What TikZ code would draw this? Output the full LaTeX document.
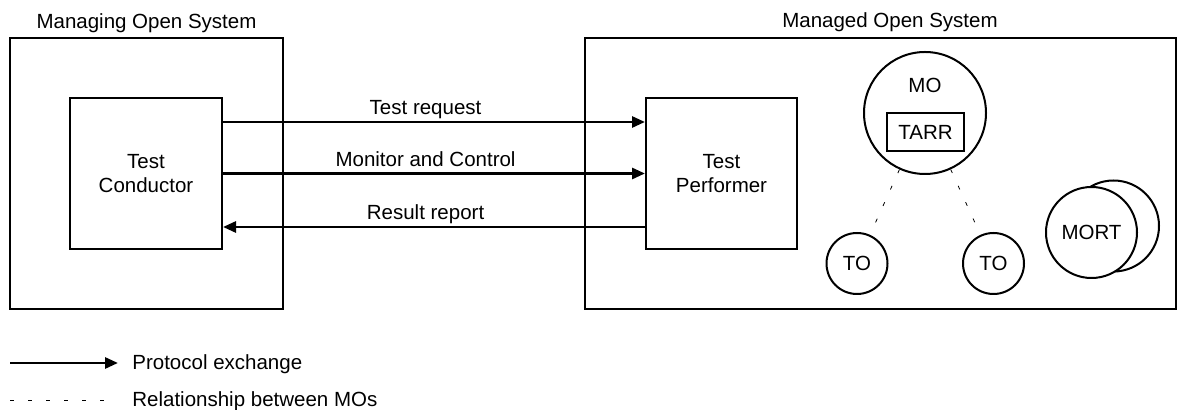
\documentclass[tikz,border=0pt]{standalone}
\usepackage{fontspec}
\setmainfont{Liberation Sans}
\usetikzlibrary{arrows.meta,calc}
\begin{document}
\begin{tikzpicture}[x=0.5pt,y=-0.5pt,
  every node/.style={font=\fontsize{10.25}{12}\selectfont},
  sysbox/.style={draw, line width=1pt, inner sep=0pt, align=center},
  obj/.style={draw, circle, line width=1pt, inner sep=0pt, fill=white},
  proto/.style={line width=1.4pt, -{Triangle[length=6.5pt,width=5.5pt]}},
  rel/.style={line width=0.4pt, dash pattern=on 2pt off 7pt},
  lbl/.style={inner sep=0pt, anchor=base}]
\useasboundingbox (0,0) rectangle (1184,410);
% system boxes
\node[sysbox, minimum width=136.5pt, minimum height=135.5pt] (mgr) at (146.5,173.5) {};
\node[sysbox, minimum width=295.5pt, minimum height=135.5pt] (mgd) at (880.5,173.5) {};
\node[lbl] (mgrt) at (146.5,29) {Managing Open System};
\node[lbl] (mgdt) at (890,28) {Managed Open System};
% test boxes
\node[sysbox, minimum width=76pt, minimum height=75.5pt] (tc) at (146,173.5) {Test\\Conductor};
\node[sysbox, minimum width=75.5pt, minimum height=75.5pt] (tp) at (721.5,173.5) {Test\\Performer};
% protocol arrows
\draw[proto] ([yshift=25.75pt]tc.east) -- ([yshift=25.75pt]tp.west)
  node[lbl, pos=0.48, yshift=3.5pt] (l1) {Test request};
\draw[proto] (tc.east) -- (tp.west)
  node[lbl, pos=0.48, yshift=3.5pt] (l2) {Monitor and Control};
\draw[proto] ([yshift=-26.75pt]tp.west) -- ([yshift=-26.75pt]tc.east)
  node[lbl, pos=0.52, yshift=3.5pt] (l3) {Result report};
% managed objects
\node[obj, minimum size=61pt] (mo) at (925,113) {};
\node[inner sep=0pt] (mot) at (925,85) {MO};
\node[draw, line width=1pt, minimum width=38.5pt, minimum height=19pt, inner sep=0pt] (tarr) at (925.5,132) {TARR};
\node[obj, minimum size=30.5pt] (to1) at (857,263.5) {TO};
\node[obj, minimum size=30.5pt] (to2) at (993.5,263.5) {TO};
\draw[rel] (mo) -- (to1);
\draw[rel] (mo) -- (to2);
\node[obj, minimum size=45.5pt] (mortb) at (1113.5,226) {};
\node[obj, minimum size=45.5pt] (mort) at (1091.5,232.5) {MORT};
% legend
\coordinate (la) at (10,363);
\coordinate (lb) at (118,363);
\draw[proto] (la) -- (lb);
\node[inner sep=0pt, anchor=base west] (lt1) at (132,370) {Protocol exchange};
\coordinate (lc) at (10,400);
\coordinate (ld) at (114,400);
\draw[rel] (lc) -- (ld);
\node[inner sep=0pt, anchor=base west] (lt2) at (132,407) {Relationship between MOs};
\end{tikzpicture}
\end{document}
